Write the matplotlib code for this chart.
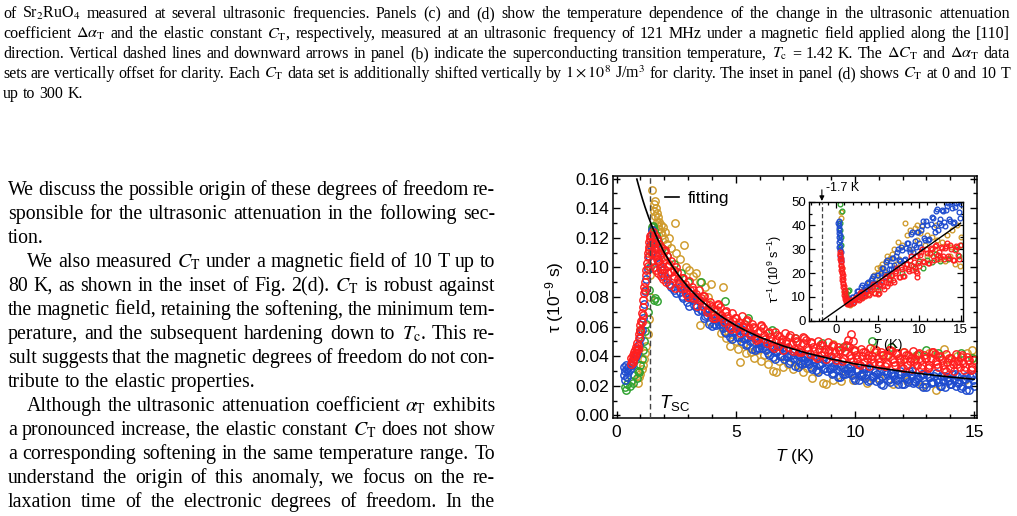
import matplotlib
matplotlib.use("Agg")
import matplotlib.pyplot as plt
from matplotlib.ticker import MultipleLocator, FormatStrFormatter

# ---------------- data ----------------
# main panel: tau (1e-9 s) vs T (K)
red_main = [
    (0.60, .035), (0.62, .039), (0.65, .037), (0.67, .041), (0.68, .036), (0.70, .038), (0.72, .043),
    (0.75, .040), (0.77, .044), (0.78, .040), (0.80, .042), (0.82, .046), (0.85, .044), (0.87, .049),
    (0.88, .045), (0.90, .047), (0.92, .052), (0.95, .055), (0.97, .058), (1.00, .061), (1.00, .057),
    (1.02, .064), (1.05, .063), (1.07, .069), (1.10, .073), (1.10, .068), (1.12, .078), (1.15, .083),
    (1.17, .087), (1.20, .090), (1.20, .085), (1.22, .095), (1.25, .098), (1.27, .103), (1.30, .107),
    (1.30, .101), (1.32, .110), (1.35, .114), (1.37, .117), (1.38, .112), (1.40, .119), (1.42, .121),
    (1.45, .122), (1.47, .110), (1.50, .104), (1.52, .124), (1.55, .116), (1.57, .100), (1.60, .121),
    (1.62, .110), (1.65, .098), (1.68, .119), (1.70, .106), (1.72, .113), (1.75, .096), (1.78, .116),
    (1.80, .104), (1.83, .110), (1.85, .094), (1.88, .114), (1.90, .101), (1.93, .107), (1.95, .092),
    (1.98, .111), (2.00, .099), (2.04, .105), (2.08, .090), (2.12, .108), (2.16, .096), (2.20, .102),
    (2.25, .088), (2.30, .104), (2.35, .093), (2.40, .098), (2.45, .086), (2.50, .100),
    (1.49, .117), (1.58, .113), (1.66, .108), (1.74, .104), (1.82, .099), (1.91, .096), (2.02, .112),
    (2.14, .101), (2.27, .097), (2.42, .094),
    (2.55, .097), (2.70, .086), (2.85, .089), (3.00, .080), (3.15, .0865), (3.30, .080), (3.45, .085),
    (3.60, .074), (3.75, .075), (3.90, .0765), (4.05, .0655), (4.20, .071), (4.35, .073), (4.50, .063),
    (4.65, .067), (4.80, .0585), (4.95, .066), (5.10, .061), (5.25, .067), (5.40, .057), (5.55, .059),
    (5.70, .062), (5.85, .051), (6.00, .057), (6.15, .059), (6.30, .049), (6.45, .053), (6.60, .0455),
    (6.75, .054), (6.90, .0495), (7.05, .056), (7.20, .046), (7.35, .0485), (7.50, .052), (7.65, .0425),
    (7.80, .049), (7.95, .051), (8.10, .0418), (8.25, .0465), (8.40, .039), (8.55, .0478), (8.70, .043),
    (8.85, .0495), (9.00, .040), (9.15, .0425), (9.30, .046), (9.45, .037), (9.60, .0435), (9.75, .046),
    (9.90, .0365), (10.05, .041), (10.20, .034), (10.35, .0428), (10.50, .0385), (10.65, .0453),
    (10.80, .036), (10.95, .039), (11.10, .0428), (11.25, .0336), (11.40, .0405), (11.55, .0434),
    (11.70, .0342), (11.85, .039), (12.00, .032), (12.15, .0408), (12.30, .0366), (12.45, .0435),
    (12.60, .0343), (12.75, .0372), (12.90, .041), (13.05, .032), (13.20, .0388), (13.35, .0416),
    (13.50, .0325), (13.65, .0373), (13.80, .0302), (13.95, .039), (14.10, .035), (14.25, .0418),
    (14.40, .0327), (14.55, .0356), (14.70, .0396), (14.85, .0305), (15.00, .0375),
    (2.625, .089), (2.775, .093), (2.925, .082), (3.075, .085), (3.225, .085), (3.375, .074),
    (3.525, .079), (3.675, .081), (3.825, .071), (3.975, .0735), (4.125, .066), (4.275, .0745),
    (4.425, .0655), (4.575, .0705), (4.725, .060), (4.875, .064), (5.025, .0655), (5.175, .0555),
    (5.325, .0615), (5.475, .0645), (5.625, .0555), (5.775, .059), (5.925, .0515), (6.075, .0605),
    (6.225, .0515), (6.375, .0565), (6.525, .047), (6.675, .051), (6.825, .0538), (6.975, .044),
    (7.125, .0505), (7.275, .054), (7.425, .045), (7.575, .0498), (7.725, .043), (7.875, .0525),
    (8.025, .044), (8.175, .0496), (8.325, .0402), (8.475, .045), (8.625, .0474), (8.775, .0378),
    (8.925, .0442), (9.075, .0478), (9.225, .0392), (9.375, .044), (9.525, .0378), (9.675, .0472),
    (9.825, .0388), (9.975, .0442), (10.125, .035), (10.275, .0399), (10.425, .0426), (10.575, .0334),
    (10.725, .0401), (10.875, .044), (11.025, .0359), (11.175, .0407), (11.325, .0345), (11.475, .0444),
    (11.625, .0363), (11.775, .0421), (11.925, .033), (12.075, .0379), (12.225, .0407), (12.375, .0315),
    (12.525, .0384), (12.675, .0422), (12.825, .0341), (12.975, .039), (13.125, .0329), (13.275, .0427),
    (13.425, .0345), (13.575, .0404), (13.725, .0312), (13.875, .0361), (14.025, .039), (14.175, .0299),
    (14.325, .0367), (14.475, .0406), (14.625, .0326), (14.775, .0375), (14.925, .0315),
    (2.59, .092), (2.74, .093), (2.89, .086), (3.04, .091), (3.19, .0795), (3.34, .082), (3.49, .078),
    (3.64, .081), (3.79, .070), (3.94, .0745), (4.09, .0675), (4.24, .075), (4.39, .068), (4.54, .070),
    (4.69, .064), (4.84, .0695), (4.99, .059), (5.14, .063), (5.29, .060), (5.44, .064), (5.59, .054),
    (5.74, .060), (5.89, .053), (6.04, .061), (6.19, .054), (6.34, .056), (6.49, .050), (6.64, .0565),
    (6.79, .047), (6.94, .0515), (7.09, .049), (7.24, .053), (7.39, .0435), (7.54, .050), (7.69, .0445),
    (7.84, .053), (7.99, .046), (8.14, .0488), (8.29, .0435), (8.44, .050), (8.59, .0408), (8.74, .045),
    (8.89, .0425), (9.04, .047), (9.19, .0375), (9.34, .044), (9.49, .039), (9.64, .0475), (9.79, .041),
    (9.94, .0435), (10.09, .038), (10.24, .045), (10.39, .0358), (10.54, .0405), (10.69, .0383),
    (10.84, .043), (10.99, .034), (11.14, .0408), (11.29, .0356), (11.44, .0445), (11.59, .0384),
    (11.74, .0412), (11.89, .036), (12.04, .043), (12.19, .0338), (12.34, .0386), (12.49, .0365),
    (12.64, .0413), (12.79, .0322), (12.94, .039), (13.09, .034), (13.24, .0428), (13.39, .0366),
    (13.54, .0395), (13.69, .0343), (13.84, .0412), (13.99, .032), (14.14, .037), (14.29, .0348),
    (14.44, .0397), (14.59, .0306), (14.74, .0376), (14.89, .0325),
    (9.70, .051), (9.84, .055), (9.92, .050),
]

blue_main = [
    (0.30, .027), (0.32, .033), (0.35, .024), (0.37, .030), (0.40, .034), (0.42, .026), (0.45, .031),
    (0.48, .029), (0.50, .033), (0.55, .031), (0.60, .035), (0.65, .034), (0.70, .037), (0.75, .038),
    (0.80, .040), (0.85, .042), (0.90, .045), (0.95, .048), (1.00, .052), (1.05, .058), (1.10, .066),
    (1.15, .075), (1.20, .084), (1.25, .092), (1.30, .099), (1.35, .108), (1.40, .115), (1.45, .121),
    (1.50, .125), (1.55, .120), (1.60, .113), (1.70, .108), (1.80, .102), (1.90, .098), (2.00, .094),
    (2.10, .092), (2.20, .089), (2.30, .087), (2.40, .085), (2.50, .083),
    (2.60, .0896), (2.75, .0805), (2.90, .0824), (3.05, .0742), (3.20, .0788), (3.35, .0734),
    (3.50, .077), (3.65, .0659), (3.80, .0678), (3.95, .0687), (4.10, .062), (4.25, .0635),
    (4.40, .065), (4.55, .0565), (4.70, .059), (4.85, .0515), (5.00, .057), (5.15, .0528),
    (5.30, .0576), (5.45, .0474), (5.60, .0502), (5.75, .052), (5.90, .0458), (6.05, .0477),
    (6.20, .0498), (6.35, .0419), (6.50, .045), (6.65, .0381), (6.80, .0442), (6.95, .0403),
    (7.10, .0454), (7.25, .0355), (7.40, .0386), (7.55, .0408), (7.70, .0352), (7.85, .0376),
    (8.00, .040), (8.15, .0324), (8.30, .0358), (8.45, .0292), (8.60, .0356), (8.75, .032),
    (8.90, .0374), (9.05, .0278), (9.20, .0312), (9.35, .0336), (9.50, .028), (9.65, .0304),
    (9.80, .0328), (9.95, .0252), (10.10, .0298), (10.25, .0265), (10.40, .0322), (10.55, .0229),
    (10.70, .0266), (10.85, .0293), (11.00, .024), (11.15, .0268), (11.30, .0297), (11.45, .0225),
    (11.60, .0274), (11.75, .0242), (11.90, .0301), (12.05, .021), (12.20, .0248), (12.35, .0277),
    (12.50, .0225), (12.65, .0254), (12.80, .0282), (12.95, .021), (13.10, .0259), (13.25, .0228),
    (13.40, .0286), (13.55, .0195), (13.70, .0233), (13.85, .0262), (14.00, .021), (14.15, .0239),
    (14.30, .0267), (14.45, .0186), (14.60, .0244), (14.75, .0213), (14.90, .0271),
    (2.675, .0835), (2.825, .0855), (2.975, .0763), (3.125, .079), (3.275, .0806), (3.425, .0702),
    (3.575, .071), (3.725, .0708), (3.875, .0617), (4.025, .0688), (4.175, .0612), (4.325, .0647),
    (4.475, .0592), (4.625, .0617), (4.775, .0532), (4.925, .0567), (5.075, .0594), (5.225, .0502),
    (5.375, .052), (5.525, .0528), (5.675, .0446), (5.825, .0524), (5.975, .0452), (6.125, .0492),
    (6.275, .0443), (6.425, .0474), (6.575, .0395), (6.725, .0436), (6.875, .0467), (7.025, .0378),
    (7.175, .040), (7.325, .041), (7.475, .0332), (7.625, .0415), (7.775, .0349), (7.925, .0393),
    (8.075, .0347), (8.225, .0381), (8.375, .0305), (8.525, .0349), (8.675, .0383), (8.825, .0297),
    (8.975, .0321), (9.125, .0335), (9.275, .0259), (9.425, .0343), (9.575, .0277), (9.725, .0321),
    (9.875, .0275), (10.025, .031), (10.175, .0236), (10.325, .0283), (10.475, .032), (10.625, .0237),
    (10.775, .0264), (10.925, .0281), (11.075, .0209), (11.225, .0297), (11.375, .0236), (11.525, .0284),
    (11.675, .0243), (11.825, .0281), (11.975, .021), (12.125, .0259), (12.275, .0297), (12.425, .0216),
    (12.575, .0244), (12.725, .0263), (12.875, .0191), (13.025, .028), (13.175, .0218), (13.325, .0267),
    (13.475, .0225), (13.625, .0264), (13.775, .0192), (13.925, .0241), (14.075, .0279), (14.225, .0198),
    (14.375, .0226), (14.525, .0245), (14.675, .0173), (14.825, .0262), (14.975, .020),
    (2.64, .0866), (2.79, .0795), (2.94, .0844), (3.09, .0792), (3.24, .0748), (3.39, .0794),
    (3.54, .071), (3.69, .0669), (3.84, .0718), (3.99, .0607), (4.14, .066), (4.29, .0615),
    (4.44, .062), (4.59, .0555), (4.74, .061), (4.89, .0565), (5.04, .053), (5.19, .0588),
    (5.34, .0516), (5.49, .0484), (5.64, .0542), (5.79, .044), (5.94, .0498), (6.09, .0457),
    (6.24, .0468), (6.39, .0409), (6.54, .047), (6.69, .0431), (6.84, .0402), (6.99, .0463),
    (7.14, .0394), (7.29, .0365), (7.44, .0426), (7.59, .0328), (7.74, .0392), (7.89, .0356),
    (8.04, .037), (8.19, .0314), (8.34, .0378), (8.49, .0342), (8.64, .0316), (8.79, .038),
    (8.94, .0314), (9.09, .0288), (9.24, .0352), (9.39, .0256), (9.54, .032), (9.69, .0284),
    (9.84, .0298), (9.99, .0242), (10.14, .0308), (10.29, .0275), (10.44, .0252), (10.59, .0319),
    (10.74, .0256), (10.89, .0233), (11.04, .030), (11.19, .0208), (11.34, .0277), (11.49, .0245),
    (11.64, .0264), (11.79, .0212), (11.94, .0281), (12.09, .025), (12.24, .0228), (12.39, .0297),
    (12.54, .0235), (12.69, .0214), (12.84, .0282), (12.99, .019), (13.14, .0259), (13.29, .0228),
    (13.44, .0246), (13.59, .0195), (13.74, .0263), (13.89, .0232), (14.04, .021), (14.19, .0279),
    (14.34, .0217), (14.49, .0196), (14.64, .0264), (14.79, .0173), (14.94, .0241),
]

green_main = [
    (0.35, .019), (0.40, .017), (0.45, .021), (0.55, .020), (0.60, .023), (0.70, .022), (0.75, .027),
    (0.85, .025), (0.90, .030), (0.95, .029), (0.98, .058), (1.00, .034), (1.05, .038), (1.10, .044),
    (1.15, .050), (1.20, .057), (1.25, .062), (1.30, .070), (1.35, .085), (1.40, .100), (1.45, .115),
    (1.48, .127), (1.52, .128), (1.55, .078), (1.62, .079), (1.68, .077), (1.58, .125), (1.65, .122),
    (1.75, .118), (1.90, .113), (2.10, .108), (2.40, .102), (2.70, .096), (3.00, .090), (3.56, .090),
    (4.54, .077), (5.50, .066), (6.50, .058), (7.50, .052), (8.60, .049), (9.50, .046), (10.70, .050),
    (11.50, .046), (12.60, .041), (13.00, .044), (13.50, .042), (14.45, .042), (14.90, .039),
]

gold_main = [
    (0.90, .022), (0.95, .026), (1.00, .028), (1.05, .031), (1.10, .034), (1.15, .038), (1.20, .042),
    (1.25, .047), (1.30, .055), (1.35, .065), (1.40, .080), (1.42, .095), (1.45, .110), (1.48, .125),
    (1.50, .152), (1.55, .143), (1.58, .138), (1.60, .145), (1.63, .135), (1.65, .140), (1.68, .131),
    (1.70, .137), (1.73, .128), (1.75, .134), (1.78, .126), (1.80, .131), (1.85, .124), (1.88, .129),
    (1.92, .122), (1.95, .127), (2.00, .119), (2.05, .124), (2.10, .116), (2.20, .120), (2.30, .113),
    (2.44, .130), (2.50, .110), (2.65, .106), (2.82, .115), (2.90, .100), (3.05, .098), (3.20, .094),
    (3.35, .096), (3.49, .061), (3.50, .090), (3.70, .087), (3.85, .080), (3.90, .063), (3.98, .089),
    (4.10, .072), (4.20, .066), (4.35, .061), (4.40, .0555), (4.47, .087), (4.50, .057), (4.60, .052),
    (4.75, .047), (4.85, .055), (5.00, .050), (5.10, .045), (5.17, .036), (5.30, .048), (5.45, .042),
    (5.60, .046), (5.66, .043), (5.75, .039), (5.90, .044), (6.05, .037), (6.20, .041), (6.35, .035),
    (6.55, .030), (6.70, .029), (6.80, .037), (7.00, .033), (7.20, .035), (7.40, .031), (7.60, .034),
    (7.80, .029), (8.00, .032), (8.20, .025), (8.40, .030), (8.66, .022), (8.80, .021), (9.07, .048),
    (9.10, .024), (9.40, .023), (9.60, .030), (9.90, .024), (10.00, .044), (10.20, .027), (10.50, .022),
    (10.80, .045), (11.00, .025), (11.30, .041), (11.60, .021), (11.90, .038), (12.00, .043),
    (12.20, .023), (12.50, .040), (12.80, .020), (13.10, .042), (13.40, .017), (13.75, .045),
    (13.90, .038), (14.00, .021), (14.30, .040), (14.60, .024), (14.70, .042), (14.90, .044), (14.95, .039),
]

# fit curve
fit_T = [0.85, 0.9, 1.0, 1.1, 1.2, 1.35, 1.5, 1.75, 2.0, 2.3, 2.6, 3.0, 3.5, 4.0, 4.5, 5.0,
         5.5, 6.0, 7.0, 8.0, 9.0, 10.0, 11.0, 12.0, 13.0, 14.0, 15.0]
fit_tau = [.1597, .1567, .1509, .1455, .1405, .1336, .1273, .1181, .1101, .1018, .0947, .0867,
           .0783, .0715, .0657, .0608, .0566, .0529, .0468, .0420, .0381, .0348, .0321, .0297,
           .0277, .0259, .0244]
T_sc = 1.42

# inset: 1/tau (1e9 s^-1) vs T (K)
red_inset = [
    (0.48, 29.0), (0.50, 27.5), (0.52, 28.0), (0.53, 26.0), (0.56, 24.5), (0.58, 26.5), (0.60, 23.0),
    (0.62, 25.0), (0.64, 21.5), (0.66, 23.5), (0.68, 20.0), (0.70, 22.0), (0.72, 18.5), (0.75, 20.5),
    (0.77, 17.0), (0.80, 19.0), (0.82, 15.5), (0.85, 17.5), (0.87, 14.0), (0.90, 16.0), (0.93, 12.5),
    (0.96, 14.5), (1.00, 11.0), (1.03, 13.0), (1.07, 10.0), (1.10, 11.5), (1.14, 9.0), (1.18, 10.0),
    (1.22, 8.0), (1.26, 8.8), (1.30, 7.3), (1.35, 7.0),
    (1.40, 8.5), (1.65, 7.2), (1.90, 8.6), (2.15, 7.8), (2.40, 9.9), (2.65, 9.25), (2.90, 11.45),
    (3.15, 9.4), (3.40, 11.0), (3.65, 12.4), (3.90, 11.25), (4.15, 13.4), (4.40, 15.3), (4.65, 11.45),
    (4.90, 14.35), (5.15, 11.6), (5.40, 16.35), (5.65, 14.45), (5.90, 18.05), (6.15, 14.4), (6.40, 17.0),
    (6.65, 19.1), (6.90, 16.95), (7.15, 19.9), (7.40, 22.0), (7.65, 18.35), (7.90, 21.55), (8.15, 18.9),
    (8.40, 23.75), (8.65, 21.85), (8.90, 25.55), (9.15, 21.1), (9.40, 24.5), (9.65, 27.2), (9.90, 24.05),
    (10.15, 27.6), (10.40, 30.1), (10.65, 24.55), (10.90, 28.45), (11.15, 24.2), (11.40, 30.45),
    (11.65, 27.15), (11.90, 31.55), (12.15, 25.8), (12.40, 28.7), (12.65, 30.9), (12.90, 27.15),
    (13.15, 30.4), (13.40, 32.5), (13.65, 26.55), (13.90, 30.05), (14.15, 25.4), (14.40, 31.25),
    (14.65, 27.65), (14.90, 31.75),
    (1.525, 7.2), (1.775, 8.9), (2.025, 7.55), (2.275, 9.2), (2.525, 10.05), (2.775, 8.7), (3.025, 11.85),
    (3.275, 10.35), (3.525, 10.35), (3.775, 12.5), (4.025, 10.85), (4.275, 14.35), (4.525, 11.75),
    (4.775, 15.4), (5.025, 11.35), (5.275, 14.85), (5.525, 16.4), (5.775, 13.5), (6.025, 18.6),
    (6.275, 15.95), (6.525, 15.8), (6.775, 19.15), (7.025, 16.3), (7.275, 20.95), (7.525, 18.55),
    (7.775, 22.45), (8.025, 18.6), (8.275, 22.2), (8.525, 23.8), (8.775, 20.95), (9.025, 27.1),
    (9.275, 23.15), (9.525, 22.7), (9.775, 27.2), (10.025, 22.85), (10.275, 28.85), (10.525, 25.05),
    (10.775, 30.0), (11.025, 24.05), (11.275, 28.55), (11.525, 30.2), (11.775, 25.5), (12.025, 32.0),
    (12.275, 27.6), (12.525, 26.65), (12.775, 30.6), (13.025, 25.8), (13.275, 31.45), (13.525, 27.25),
    (13.775, 31.8), (14.025, 25.45), (14.275, 29.55), (14.525, 30.85), (14.775, 25.85),
    (9.60, 21.0), (9.70, 20.0), (9.80, 18.5),
]

blue_inset = [
    (0.30, 41.0), (0.32, 39.0), (0.33, 42.0), (0.35, 37.0), (0.36, 40.0), (0.37, 35.0), (0.40, 33.0),
    (0.40, 38.0), (0.42, 31.0), (0.44, 36.0), (0.45, 29.5), (0.48, 34.0), (0.50, 27.0), (0.52, 31.5),
    (0.55, 25.0), (0.57, 29.0), (0.62, 26.0),
    (1.50, 9.2), (1.75, 8.1), (2.00, 9.8), (2.25, 9.2), (2.50, 12.4), (2.75, 11.1), (3.00, 14.3),
    (3.25, 11.6), (3.50, 14.0), (3.75, 15.9), (4.00, 14.5), (4.25, 16.9), (4.50, 18.7), (4.75, 16.0),
    (5.00, 19.05), (5.25, 15.4), (5.50, 22.25), (5.75, 19.55), (6.00, 24.65), (6.25, 19.6), (6.50, 23.2),
    (6.75, 26.2), (7.00, 23.25), (7.25, 27.3), (7.50, 30.3), (7.75, 25.15), (8.00, 29.55), (8.25, 25.9),
    (8.50, 32.65), (8.75, 30.05), (9.00, 36.5), (9.25, 28.7), (9.50, 33.5), (9.75, 37.2), (10.00, 32.5),
    (10.25, 37.9), (10.50, 41.8), (10.75, 34.1), (11.00, 40.0), (11.25, 34.2), (11.50, 43.5),
    (11.75, 39.2), (12.00, 46.0), (12.25, 38.1), (12.50, 42.8), (12.75, 46.4), (13.00, 41.5),
    (13.25, 46.5), (13.50, 49.5), (13.75, 42.0), (14.00, 47.5), (14.25, 41.4), (14.50, 49.6),
    (14.75, 45.6), (15.00, 49.0),
    (1.625, 8.0), (1.875, 9.95), (2.125, 8.85), (2.375, 10.8), (2.625, 12.55), (2.875, 10.5),
    (3.125, 14.85), (3.375, 13.0), (3.625, 13.15), (3.875, 16.1), (4.125, 14.0), (4.375, 17.8),
    (4.625, 16.05), (4.875, 19.3), (5.125, 14.95), (5.375, 20.05), (5.625, 22.3), (5.875, 18.25),
    (6.125, 25.45), (6.375, 21.75), (6.625, 21.55), (6.875, 26.3), (7.125, 22.3), (7.375, 28.8),
    (7.625, 25.45), (7.875, 30.85), (8.125, 25.45), (8.375, 30.5), (8.625, 32.75), (8.875, 28.75),
    (9.125, 37.35), (9.375, 31.6), (9.625, 30.85), (9.875, 37.1), (10.125, 30.95), (10.375, 39.85),
    (10.625, 34.7), (10.875, 42.05), (11.125, 33.85), (11.375, 40.6), (11.625, 43.35), (11.875, 37.1),
    (12.125, 46.8), (12.375, 40.95), (12.625, 40.1), (12.875, 46.2), (13.125, 39.75), (13.375, 48.25),
    (13.625, 42.75), (13.875, 49.75), (14.125, 41.2), (14.375, 47.6), (14.625, 49.95), (14.875, 43.3),
]

green_inset = [
    (0.48, 49.0), (0.68, 46.0), (0.48, 41.0), (0.52, 38.0), (0.58, 35.0), (0.60, 32.0), (1.20, 11.5),
    (1.30, 10.0), (1.40, 12.5), (1.60, 13.0), (3.00, 10.0), (5.00, 13.0), (6.50, 17.0), (8.00, 20.0),
    (9.00, 23.5), (9.50, 22.0), (10.00, 25.0), (10.50, 22.0), (11.00, 25.5), (11.50, 24.5), (12.00, 28.0),
    (12.50, 25.0), (13.50, 26.0), (14.50, 30.0), (14.80, 27.0), (15.00, 32.0),
]

gold_inset = [
    (0.55, 43.0), (0.60, 45.5), (0.52, 30.0), (0.70, 22.0), (1.00, 12.0), (1.30, 9.0), (1.50, 7.0),
    (1.70, 6.5), (2.00, 7.5), (2.50, 9.0), (3.00, 10.0), (3.30, 13.0), (3.60, 11.0), (4.00, 16.0),
    (4.30, 13.0), (4.60, 19.0), (4.90, 22.0), (5.00, 20.0), (5.20, 17.0), (5.30, 22.5), (5.50, 24.0),
    (5.80, 21.0), (6.00, 25.0), (6.10, 27.0), (6.40, 19.0), (6.50, 26.5), (6.70, 28.0), (7.00, 30.0),
    (7.20, 24.0), (7.50, 33.0), (7.60, 26.0), (8.00, 32.0), (8.30, 41.0), (8.60, 36.0), (8.90, 38.0),
    (9.20, 30.0), (9.50, 39.0), (9.80, 34.0), (9.80, 40.0), (10.10, 37.0), (10.40, 40.0), (10.70, 32.0),
    (10.90, 27.0), (11.00, 36.0), (11.30, 28.0), (11.60, 35.0), (11.90, 30.0), (12.00, 40.0),
    (12.20, 34.0), (12.50, 26.0), (12.80, 33.0), (13.10, 25.0), (13.40, 36.0), (13.70, 27.0),
    (13.90, 31.0), (14.00, 38.0), (14.30, 24.0), (14.60, 40.0), (14.90, 23.0), (15.00, 35.0),
]

fit_inv_T = [-1.7, 15.0]
fit_inv = [0.0, 41.0]
T_0 = -1.7

colors = {"gold": "#cf9a2a", "green": "#2fa22f", "blue": "#1f4ccf", "red": "#ff1f1f"}

caption_lines = [
    r"of Sr$_2$RuO$_4$ measured at several ultrasonic frequencies. Panels (c) and (d) show the temperature dependence of the change in the ultrasonic attenuation",
    r"coefficient $\Delta\alpha_\mathrm{T}$ and the elastic constant $C_\mathrm{T}$, respectively, measured at an ultrasonic frequency of 121 MHz under a magnetic field applied along the [110]",
    r"direction. Vertical dashed lines and downward arrows in panel (b) indicate the superconducting transition temperature, $T_\mathrm{c}$ = 1.42 K. The $\Delta{C}_\mathrm{T}$ and $\Delta\alpha_\mathrm{T}$ data",
    r"sets are vertically offset for clarity. Each $C_\mathrm{T}$ data set is additionally shifted vertically by $1\times10^8$ J/m$^3$ for clarity. The inset in panel (d) shows $C_\mathrm{T}$ at 0 and 10 T",
    r"up to 300 K.",
]
# (text, indent, justified)
body_lines = [
    (r"We discuss the possible origin of these degrees of freedom re-", False, True),
    (r"sponsible for the ultrasonic attenuation in the following sec-", False, True),
    (r"tion.", False, False),
    (r"We also measured $C_\mathrm{T}$ under a magnetic field of 10 T up to", True, True),
    (r"80 K, as shown in the inset of Fig. 2(d). $C_\mathrm{T}$ is robust against", False, True),
    (r"the magnetic field, retaining the softening, the minimum tem-", False, True),
    (r"perature, and the subsequent hardening down to $T_\mathrm{c}$. This re-", False, True),
    (r"sult suggests that the magnetic degrees of freedom do not con-", False, True),
    (r"tribute to the elastic properties.", False, False),
    (r"Although the ultrasonic attenuation coefficient $\alpha_\mathrm{T}$ exhibits", True, True),
    (r"a pronounced increase, the elastic constant $C_\mathrm{T}$ does not show", False, True),
    (r"a corresponding softening in the same temperature range. To", False, True),
    (r"understand the origin of this anomaly, we focus on the re-", False, True),
    (r"laxation time of the electronic degrees of freedom. In the", False, True),
]

# ---------------- style ----------------
plt.rcParams["font.family"] = ["Liberation Sans", "DejaVu Sans"]
plt.rcParams["mathtext.fontset"] = "custom"
plt.rcParams["mathtext.rm"] = "Liberation Sans"
plt.rcParams["mathtext.it"] = "Liberation Sans:italic"
plt.rcParams["mathtext.bf"] = "Liberation Sans:bold"

W, H = 1017, 516
fig = plt.figure(figsize=(W / 100, H / 100), dpi=100)
renderer = fig.canvas.get_renderer()


def make_words(words, size):
    objs = [fig.text(0, 0, w, fontsize=size, family="Liberation Serif", math_fontfamily="stix",
                     va="baseline", ha="left") for w in words]
    widths = [o.get_window_extent(renderer).width for o in objs]
    return objs, widths


def text_block(lines, x0, x1, y0, dy, size, indent=19):
    for i, (s, ind, just) in enumerate(lines):
        words = s.split(" ")
        start = x0 + (indent if ind else 0)
        sz = size
        while True:
            objs, widths = make_words(words, sz)
            if not just or sum(widths) + 3.5 * (len(words) - 1) <= x1 - start or sz < 7:
                break
            for o in objs:
                o.remove()
            sz -= 0.1
        if just and len(words) > 1:
            gap = (x1 - start - sum(widths)) / (len(words) - 1)
        else:
            gap = sz * 100 / 72 * 0.25
        x = start
        y = y0 + i * dy
        for o, w in zip(objs, widths):
            o.set_position((x / W, 1 - y / H))
            x += w + gap


text_block([(s, False, i < len(caption_lines) - 1) for i, s in enumerate(caption_lines)],
           3, 1010, 18, 20, 11.5)
text_block(body_lines, 8, 495, 195, 24, 14.3)

# ---------------- main panel ----------------
ax = fig.add_axes([613 / W, 1 - 418 / H, 364 / W, 242 / H])
for name, pts in [("gold", gold_main), ("green", green_main), ("blue", blue_main), ("red", red_main)]:
    ax.plot([p[0] for p in pts], [p[1] for p in pts], "o", ls="none", mfc="none",
            mec=colors[name], ms=5.3, mew=1.05, zorder=2)
fit_line, = ax.plot(fit_T, fit_tau, color="k", lw=1.2, zorder=4)
ax.axvline(T_sc, color="#444444", ls=(0, (4, 2.5)), lw=1.0, zorder=3)
ax.text(1.8, 0.005, r"$T_\mathrm{SC}$", fontsize=13.5, va="baseline", ha="left")

ax.set_xlim(-0.15, 15.12)
ax.set_ylim(-0.0018, 0.1618)
ax.xaxis.set_major_locator(MultipleLocator(5))
ax.xaxis.set_minor_locator(MultipleLocator(1))
ax.yaxis.set_major_locator(MultipleLocator(0.02))
ax.yaxis.set_minor_locator(MultipleLocator(0.01))
ax.yaxis.set_major_formatter(FormatStrFormatter("%.2f"))
ax.tick_params(which="both", direction="in", top=True, right=True, width=1.0, labelsize=12.5)
ax.tick_params(which="major", length=5)
ax.tick_params(which="minor", length=3)
ax.tick_params(axis="y", pad=3)
ax.tick_params(axis="x", pad=5)
for sp in ax.spines.values():
    sp.set_linewidth(1.1)
ax.set_xlabel(r"$T$ (K)", fontsize=12.5)
ax.set_ylabel(r"τ (10$^{-9}$ s)", fontsize=12.5)
ax.xaxis.set_label_coords(0.5, -0.118)
ax.yaxis.set_label_coords(-0.128, 0.5)
ax.legend([fit_line], ["fitting"], loc="upper left", bbox_to_anchor=(0.11, 0.99), frameon=False,
          handlelength=0.8, handletextpad=0.5, fontsize=12.5, borderaxespad=0.3)

# ---------------- inset ----------------
axi = fig.add_axes([809 / W, 1 - 320.7 / H, 153.7 / W, 119 / H])
axi.set_facecolor("white")
for name, pts in [("gold", gold_inset), ("green", green_inset), ("blue", blue_inset), ("red", red_inset)]:
    axi.plot([p[0] for p in pts], [p[1] for p in pts], "o", ls="none", mfc="none",
             mec=colors[name], ms=3.4, mew=0.95, zorder=2)
axi.plot(fit_inv_T, fit_inv, color="k", lw=1.0, zorder=4)
axi.axvline(T_0, color="#444444", ls=(0, (3.5, 2)), lw=0.9, zorder=3)
axi.annotate("", xy=(T_0, 50.3), xytext=(T_0, 55.0), annotation_clip=False,
             arrowprops=dict(arrowstyle="-|>", color="k", lw=0.8, mutation_scale=7,
                             shrinkA=0, shrinkB=0))
axi.text(T_0 + 0.55, 55.8, "-1.7 K", fontsize=9, va="center", ha="left")

axi.set_xlim(-3.25, 15.25)
axi.set_ylim(0, 50)
axi.xaxis.set_major_locator(MultipleLocator(5))
axi.xaxis.set_minor_locator(MultipleLocator(1))
axi.yaxis.set_major_locator(MultipleLocator(10))
axi.yaxis.set_minor_locator(MultipleLocator(5))
axi.tick_params(which="both", direction="in", top=True, right=True, width=0.9, labelsize=9.5)
axi.tick_params(which="major", length=4)
axi.tick_params(which="minor", length=2.5)
axi.tick_params(axis="y", pad=2)
axi.tick_params(axis="x", pad=2.5)
for sp in axi.spines.values():
    sp.set_linewidth(1.0)
axi.set_xlabel(r"$T$ (K)", fontsize=9.5)
axi.set_ylabel(r"τ$^{-1}$ (10$^9$ s$^{-1}$)", fontsize=9)
axi.xaxis.set_label_coords(0.51, -0.14)
axi.yaxis.set_label_coords(-0.165, 0.43)

fig.savefig("out.png", dpi=100)
